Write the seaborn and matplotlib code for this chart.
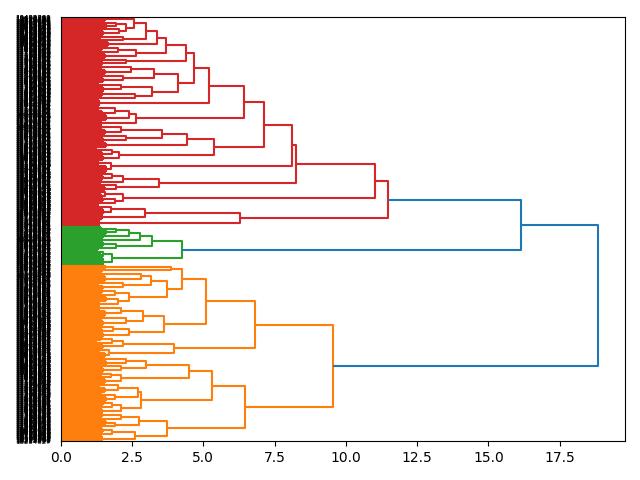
import matplotlib
matplotlib.use("Agg")
import matplotlib.pyplot as plt
from matplotlib.collections import LineCollection
import seaborn as sns


# ------------------------------------------------
# Tree data: N(height, upper, lower), B(n_leaves, height)
# ------------------------------------------------
def N(h, a, b):
    return ("node", h, a, b)


def B(n, h):
    return ("block", n, h)


# red cluster, top to bottom
red_a1 = B(9, 1.55)
red_a2 = N(2.3, N(1.95, B(8, 1.35), B(9, 1.6)), N(2.05, B(8, 1.25), B(11, 1.5)))
red_a3 = N(2.2, B(8, 1.4), B(9, 1.3))
red_a4 = B(10, 1.65)
red_a5 = N(2.65, N(2.0, B(10, 1.45), B(8, 1.25)), B(12, 1.55))
red_a6 = N(2.3, B(8, 1.35), B(8, 1.5))
red_a7 = N(4.13,
           N(3.27, N(2.45, B(12, 1.4), B(11, 1.55)), N(2.2, B(11, 1.3), B(10, 1.5))),
           N(3.2, N(2.1, B(12, 1.3), B(12, 1.5)), N(2.6, B(12, 1.45), B(9, 1.2))))
red_a8 = B(15, 1.35)
red_a9 = N(2.63, N(2.4, N(1.9, B(11, 1.3), B(11, 1.45)), B(13, 1.6)), B(12, 1.4))
red_a10 = N(5.36,
            N(4.43, N(3.56, N(2.1, B(11, 1.4), B(11, 1.55)), N(2.3, B(10, 1.3), B(12, 1.5))), B(12, 1.6)),
            N(2.05, N(1.8, B(10, 1.25), B(10, 1.45)), B(12, 1.5)))
red_a11 = N(1.75, B(14, 1.3), B(16, 1.6))
red_a12 = N(3.46, N(2.2, N(1.8, B(9, 1.3), B(9, 1.5)), B(10, 1.4)), N(1.95, B(9, 1.35), B(8, 1.55)))
red_a13 = N(2.2, N(1.57, B(9, 1.2), B(9, 1.4)), N(1.9, B(9, 1.5), B(10, 1.3)))
red_a14 = N(6.3, N(2.97, N(1.75, B(10, 1.3), B(12, 1.5)), B(14, 1.45)), B(18, 1.34))

red = N(11.48, N(11.03, N(8.25, N(8.1, N(7.14, N(6.42, N(5.19, N(4.67, N(4.38, N(3.68, N(3.38, N(3.0,
        N(2.57, red_a1, red_a2), red_a3), red_a4), red_a5), red_a6), red_a7), red_a8), red_a9),
        red_a10), red_a11), red_a12), red_a13), red_a14)

# green cluster
green = N(4.27,
          N(3.21, N(2.78, N(2.41, N(1.95, B(8, 1.4), B(9, 1.6)), B(10, 1.5)), B(11, 1.35)),
            N(1.93, B(10, 1.5), B(10, 1.3))),
          N(1.81, N(1.5, B(9, 1.25), B(10, 1.4)), B(20, 1.5)))

# orange cluster
org_o1 = N(3.87, B(7, 1.6), B(8, 1.45))
org_o2 = N(3.73,
           N(3.16, N(2.8, B(11, 1.4), B(12, 1.55)), N(2.2, B(11, 1.3), B(10, 1.5))),
           N(2.4, N(1.9, B(10, 1.45), B(9, 1.3)), N(2.0, B(11, 1.6), B(11, 1.35))))
org_o3 = N(3.63,
           N(2.9, N(2.1, B(12, 1.35), B(13, 1.55)), N(2.3, B(12, 1.4), B(11, 1.5))),
           N(2.4, N(1.85, B(10, 1.3), B(9, 1.45)), B(11, 1.5)))
org_o4 = N(3.97, N(2.2, N(1.8, B(9, 1.4), B(9, 1.25)), B(10, 1.5)), N(1.7, B(10, 1.35), B(12, 1.55)))
org_o5 = N(4.49,
           N(3.0, N(2.3, B(10, 1.4), B(9, 1.6)), N(2.1, B(8, 1.3), B(10, 1.5))),
           N(2.1, N(1.75, B(8, 1.45), B(9, 1.3)), B(11, 1.55)))
org_o6 = N(2.8,
           N(2.7, N(2.0, B(11, 1.35), B(12, 1.55)), N(1.9, B(11, 1.4), B(12, 1.6))),
           N(2.1, N(1.8, B(9, 1.5), B(9, 1.3)), B(11, 1.45)))
org_o7 = N(3.73,
           N(2.74, N(2.1, B(9, 1.45), B(10, 1.3)), N(1.9, B(9, 1.6), B(10, 1.4))),
           N(2.6, N(1.8, B(10, 1.5), B(9, 1.35)), B(13, 1.45)))

orange = N(9.55,
           N(6.83, N(5.08, N(4.26, org_o1, org_o2), org_o3), org_o4),
           N(6.48, N(5.31, org_o5, org_o6), org_o7))

root = N(18.85, N(16.14, red, green), orange)


# ------------------------------------------------
# Layout
# ------------------------------------------------
def count(t):
    if t[0] == "block":
        return t[1]
    return count(t[2]) + count(t[3])


n_leaves = count(root)
leaf_labels = [str(10485760 + 7331 * i) for i in range(n_leaves)]

pal = sns.color_palette("tab10")
above_color = pal[0]
cluster_colors = [pal[3], pal[2], pal[1]]  # top to bottom
threshold = 0.7 * root[1]

segs, cols, ticks = [], [], []
state = {"leaf": 0, "cluster": 0}


def layout(t, color):
    if t[0] == "block":
        _, n, h = t
        ys = []
        for k in range(n):
            y = 10 * (n_leaves - state["leaf"]) - 5
            state["leaf"] += 1
            ys.append(y)
            ticks.append(y)
            segs.append([(0, y), (h, y)])
            cols.append(color)
        segs.append([(h, ys[0]), (h, ys[-1])])
        cols.append(color)
        return (ys[0] + ys[-1]) / 2, h
    _, h, a, b = t
    if color is None and h < threshold:
        color = cluster_colors[state["cluster"]]
        state["cluster"] += 1
    ya, ha = layout(a, color)
    yb, hb = layout(b, color)
    segs.append([(ha, ya), (h, ya), (h, yb), (hb, yb)])
    cols.append(color if color is not None else above_color)
    return (ya + yb) / 2, h


layout(root, None)

# ------------------------------------------------
# Plot
# ------------------------------------------------
fig, ax = plt.subplots(figsize=(6.4, 4.8), dpi=100)
ax.add_collection(LineCollection(segs, colors=cols, linewidths=1.5))
ax.set_xlim(0, root[1] * 1.05)
ax.set_ylim(0, 10 * n_leaves)
ax.set_yticks(ticks)
ax.set_yticklabels(leaf_labels, size=5)
for line in ax.get_yticklines():
    line.set_visible(False)
plt.tight_layout()
plt.savefig("out.png")
plt.close(fig)
